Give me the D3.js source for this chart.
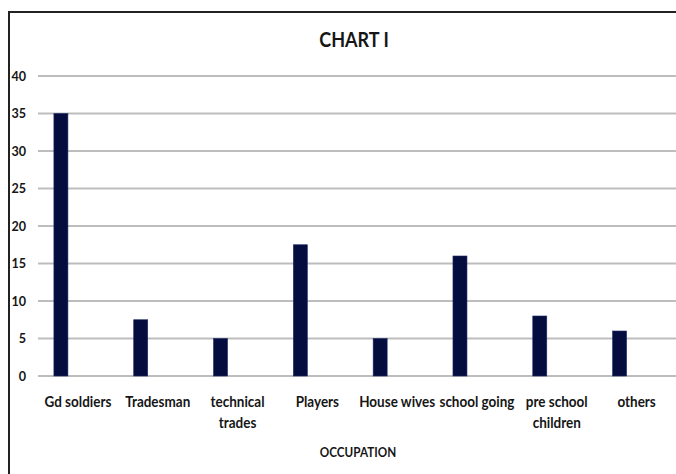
<!DOCTYPE html>
<html>
<head>
<meta charset="utf-8">
<script src="https://cdn.jsdelivr.net/npm/d3@7"></script>
<style>
  html, body { margin: 0; padding: 0; background: #fff; }
  svg { display: block; }
  text { font-family: Lato, "Open Sans", "Liberation Sans", sans-serif; font-weight: bold; fill: #161616; }
</style>
</head>
<body>
<svg id="chart" width="676" height="474"></svg>
<script>
// Occupation categories (multi-line labels split on "\n")
const categories = ["Gd soldiers", "Tradesman", "technical\ntrades", "Players", "House wives", "school going", "pre school\nchildren", "others"];
const values = [35, 7.5, 5, 17.5, 5, 16, 8, 6];
const yTicks = [0, 5, 10, 15, 20, 25, 30, 35, 40];
const title = "CHART I";
const xTitle = "OCCUPATION";

const svg = d3.select("#chart");
const W = 676, H = 474;
const plot = { left: 38, right: 676.5, top: 76, bottom: 376 };
const squeeze = 0.9; // narrow the glyphs horizontally

// Helper: text placed at (cx, cy) and compressed horizontally
function narrowText(parent, cx, cy, size, anchor) {
  return parent.append("g").attr("transform", `translate(${cx},${cy}) scale(${squeeze},1)`)
    .append("text").attr("x", 0).attr("y", 0)
    .attr("text-anchor", anchor).attr("font-size", size);
}

// Outer frame (top and left edges visible)
svg.append("line").attr("x1", 9).attr("x2", W).attr("y1", 12).attr("y2", 12)
  .attr("stroke", "#222").attr("stroke-width", 2);
svg.append("line").attr("x1", 9).attr("x2", 9).attr("y1", 11).attr("y2", H)
  .attr("stroke", "#222").attr("stroke-width", 2);

const x = d3.scaleBand().domain(categories).range([plot.left, plot.right]).padding(0);
const y = d3.scaleLinear().domain([0, 40]).range([plot.bottom, plot.top]);

// Horizontal gridlines
svg.append("g").selectAll("line").data(yTicks).join("line")
  .attr("x1", plot.left).attr("x2", W)
  .attr("y1", d => y(d)).attr("y2", d => y(d))
  .attr("stroke", "#bdbdbd").attr("stroke-width", 2);

// Y axis tick labels
const gy = svg.append("g");
yTicks.forEach(t => {
  narrowText(gy, 26, y(t), 14, "end").attr("dy", "0.35em").text(t);
});

// Bars: series sits left of category centre (clustered layout)
const barW = 14;
const barOffset = x.bandwidth() * 0.287;
svg.append("g").selectAll("rect").data(values).join("rect")
  .attr("x", (d, i) => x(categories[i]) + barOffset - barW / 2)
  .attr("y", d => y(d))
  .attr("width", barW)
  .attr("height", d => y(0) - y(d))
  .attr("fill", "#050d3e")
  .attr("stroke", "#1c2a6a").attr("stroke-width", 0.6);

// X axis category labels
const gx = svg.append("g");
categories.forEach(c => {
  const cx = x(c) + x.bandwidth() / 2;
  const t = narrowText(gx, cx, 407, 15, "middle");
  c.split("\n").forEach((ln, k) => {
    t.append("tspan").attr("x", 0).attr("dy", k === 0 ? 0 : 21).text(ln);
  });
});

// Titles
narrowText(svg, 354, 47, 20, "middle").text(title);
narrowText(svg, 358, 457, 13, "middle").text(xTitle);
</script>
</body>
</html>
